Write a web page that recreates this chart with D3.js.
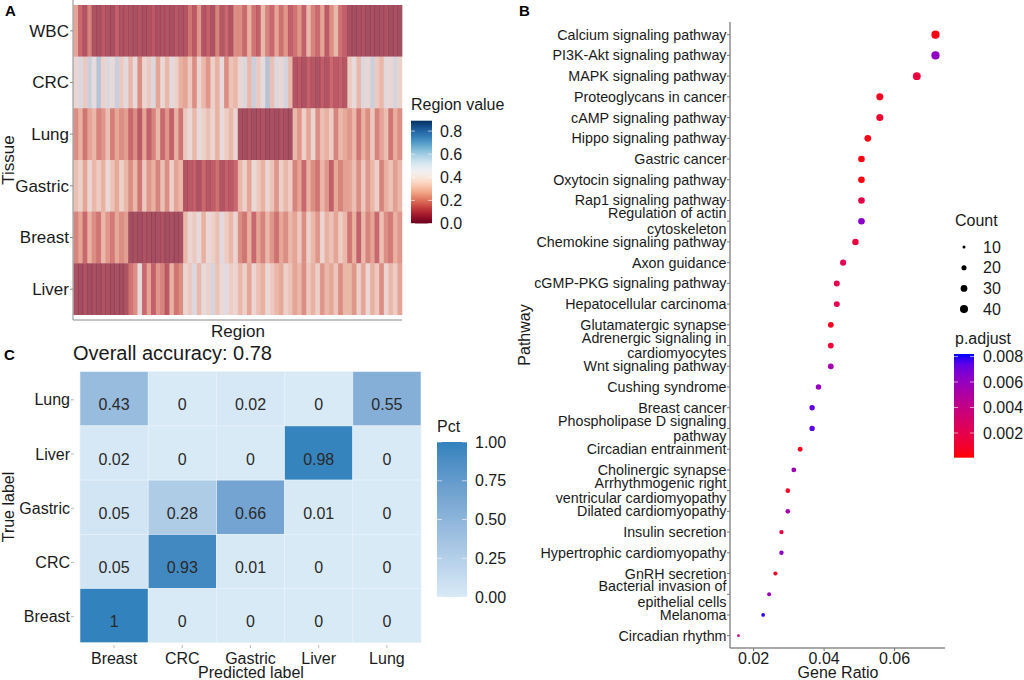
<!DOCTYPE html>
<html><head><meta charset="utf-8">
<script src="https://cdn.jsdelivr.net/npm/d3@7"></script>
<style>
html,body{margin:0;padding:0;background:#fff;}
svg{display:block;font-family:"Liberation Sans",Arial,Helvetica,sans-serif;}
</style></head>
<body><svg id="c" width="1024" height="680"></svg>
<script>
// ---------- Panel A data ----------
const tissues = ["WBC","CRC","Lung","Gastric","Breast","Liver"];
const regionTicks = [0.0,0.2,0.4,0.6,0.8];
const wbcVals = [.25,.12,.06,.18,.05,.04,.08,.05,.04,.1,.05,.06, .05,.04,.06,.04,.05,.08,.04,.05,.06,.04,.07,.05, .06,.15,.08,.22,.06,.1,.05,.18,.07,.12,.06,.2, .2,.12,.28,.15,.1,.3,.18,.12,.25,.14,.22,.1, .15,.22,.1,.3,.18,.12,.25,.08,.2,.3,.14,.1, .04,.03,.04,.05,.03,.04,.03,.04,.05,.03,.04,.03];
const crcVals = [.4,.5,.35,.55,.45,.6,.38,.5,.42,.55,.35,.48, .3,.45,.2,.4,.35,.5,.25,.42,.3,.48,.38,.28, .25,.35,.2,.4,.3,.22,.38,.28,.45,.2,.33,.3, .4,.5,.3,.55,.35,.45,.6,.32,.5,.4,.52,.3, .06,.08,.05,.1,.07,.05,.09,.06,.12,.08,.1,.07, .35,.45,.3,.5,.4,.55,.35,.3,.48,.4,.52,.38];
const lungVals = [.2,.28,.15,.25,.3,.18,.22,.32,.17,.26,.2,.24, .12,.2,.08,.25,.1,.18,.3,.12,.22,.1,.28,.15, .35,.42,.3,.45,.38,.32,.4,.28,.44,.36,.3,.4, .04,.03,.05,.03,.04,.05,.03,.04,.03,.05,.04,.03, .3,.22,.38,.25,.4,.2,.32,.28,.36,.18,.3,.26, .22,.3,.15,.28,.2,.35,.18,.25,.32,.15,.27,.2];
const gastricVals = [.32,.38,.25,.4,.3,.36,.28,.42,.33,.26,.38,.3, .2,.3,.15,.35,.22,.28,.18,.32,.2,.38,.25,.3, .06,.08,.1,.05,.12,.07,.09,.14,.06,.1,.08,.12, .3,.38,.25,.42,.35,.28,.4,.33,.22,.38,.3,.36, .18,.25,.12,.28,.2,.15,.3,.22,.1,.26,.18,.24, .25,.32,.2,.35,.22,.3,.38,.18,.28,.33,.24,.3];
const breastVals = [.18,.25,.12,.28,.2,.15,.3,.22,.16,.26,.2,.24, .03,.04,.03,.05,.04,.03,.04,.05,.03,.04,.03,.04, .3,.4,.35,.45,.28,.42,.38,.32,.48,.36,.3,.4, .2,.15,.28,.12,.25,.18,.3,.22,.14,.26,.2,.3, .25,.35,.2,.38,.3,.22,.4,.28,.33,.25,.36,.3, .15,.28,.1,.3,.18,.25,.12,.32,.2,.16,.28,.22];
const liverVals = [.04,.03,.05,.03,.04,.03,.05,.04,.03,.04,.03,.05, .15,.2,.45,.12,.25,.1,.22,.18,.08,.28,.15,.2, .4,.35,.5,.3,.45,.38,.52,.33,.42,.48,.36,.4, .3,.38,.25,.4,.32,.28,.42,.35,.3,.26,.38,.33, .25,.3,.2,.35,.28,.38,.22,.3,.26,.34,.2,.3, .3,.22,.38,.25,.42,.28,.35,.2,.4,.3,.36,.25];

// ---------- Panel B data ----------
const pathways = ["Calcium signaling pathway","PI3K-Akt signaling pathway","MAPK signaling pathway","Proteoglycans in cancer","cAMP signaling pathway","Hippo signaling pathway","Gastric cancer","Oxytocin signaling pathway","Rap1 signaling pathway","Regulation of actin\ncytoskeleton","Chemokine signaling pathway","Axon guidance","cGMP-PKG signaling pathway","Hepatocellular carcinoma","Glutamatergic synapse","Adrenergic signaling in\ncardiomyocytes","Wnt signaling pathway","Cushing syndrome","Breast cancer","Phospholipase D signaling\npathway","Circadian entrainment","Cholinergic synapse","Arrhythmogenic right\nventricular cardiomyopathy","Dilated cardiomyopathy","Insulin secretion","Hypertrophic cardiomyopathy","GnRH secretion","Bacterial invasion of\nepithelial cells","Melanoma","Circadian rhythm"];
const geneRatio = [0.0716,0.0716,0.0663,0.0558,0.0558,0.0524,0.0506,0.0506,0.0506,0.0506,0.0489,0.0454,0.0436,0.0436,0.0419,0.0419,0.0419,0.0384,0.0366,0.0366,0.0332,0.0314,0.0297,0.0297,0.0279,0.0279,0.0262,0.0244,0.0227,0.0157];
const counts = [41,41,38,32,32,30,29,29,29,29,28,26,25,25,24,24,24,22,21,21,19,18,17,17,16,16,15,14,13,9];
const pAdjust = [0.0003,0.0062,0.0015,0.0006,0.0010,0.0004,0.0003,0.0003,0.0018,0.0064,0.0016,0.0022,0.0020,0.0020,0.0006,0.0012,0.0055,0.0060,0.0074,0.0075,0.0007,0.0057,0.0008,0.0054,0.0017,0.0062,0.0008,0.0058,0.0080,0.0040];
const ratioTicks = [0.02,0.04,0.06];
const countTicks = [10,20,30,40];
const pTicks = [0.002,0.004,0.006,0.008];

// ---------- Panel C data ----------
const trueLabels = ["Lung","Liver","Gastric","CRC","Breast"];
const predLabels = ["Breast","CRC","Gastric","Liver","Lung"];
const cmLung = [0.43,0,0.02,0,0.55];
const cmLiver = [0.02,0,0,0.98,0];
const cmGastric = [0.05,0.28,0.66,0.01,0];
const cmCRC = [0.05,0.93,0.01,0,0];
const cmBreast = [1,0,0,0,0];
const pctTicks = [0.00,0.25,0.50,0.75,1.00];
const accuracy = 0.78;

const svg = d3.select("#c");
const TXT = "#1a1a1a";
const AX = "#8a8a8a";

// ================= Panel A =================
const heatRows = [wbcVals,crcVals,lungVals,gastricVals,breastVals,liverVals];
const nCols = wbcVals.length;
const xA = d3.scaleBand().domain(d3.range(nCols)).range([73.5,402]);
const yA = d3.scaleBand().domain(tissues).range([5,315]);
const colA = d3.scaleSequential(d3.interpolateRdBu).domain([0,0.89]);
const gA = svg.append("g");
gA.append("rect").attr("x",73.5).attr("y",5).attr("width",328.5).attr("height",310).attr("fill","#d8b8c0");
heatRows.forEach((row,ri)=>{
  gA.selectAll(null).data(row).enter().append("rect")
    .attr("x",(d,i)=>xA(i)).attr("y",yA(tissues[ri]))
    .attr("width",xA.bandwidth()+0.4).attr("height",yA.bandwidth())
    .attr("fill",d=>colA(d)).attr("fill-opacity",0.6);
});
gA.append("line").attr("x1",73).attr("x2",73).attr("y1",0).attr("y2",320).attr("stroke",AX).attr("stroke-width",1);
gA.append("line").attr("x1",73).attr("x2",402).attr("y1",320).attr("y2",320).attr("stroke",AX).attr("stroke-width",1);
tissues.forEach(t=>{
  const y = yA(t)+yA.bandwidth()/2;
  gA.append("line").attr("x1",70).attr("x2",73).attr("y1",y).attr("y2",y).attr("stroke",AX);
  gA.append("text").attr("x",69).attr("y",y).attr("dy","0.35em").attr("text-anchor","end").attr("font-size",17).attr("fill",TXT).text(t);
});
gA.append("text").attr("transform","translate(14,160) rotate(-90)").attr("text-anchor","middle").attr("font-size",17).attr("fill",TXT).text("Tissue");
gA.append("text").attr("x",238).attr("y",337).attr("text-anchor","middle").attr("font-size",17).attr("fill",TXT).text("Region");
gA.append("text").attr("x",5).attr("y",16).attr("font-size",15).attr("font-weight","bold").attr("fill","#000").text("A");
// legend A
const defs = svg.append("defs");
const gradA = defs.append("linearGradient").attr("id","gA").attr("x1",0).attr("x2",0).attr("y1",1).attr("y2",0);
d3.range(0,1.0001,0.05).forEach(t=>gradA.append("stop").attr("offset",t).attr("stop-color",colA(t*0.89)));
const yLA = d3.scaleLinear().domain([0,0.89]).range([223.5,120.7]);
gA.append("rect").attr("x",411).attr("y",120.7).attr("width",21).attr("height",102.8).attr("fill","url(#gA)");
gA.append("text").attr("x",411).attr("y",110).attr("font-size",16).attr("fill",TXT).text("Region value");
regionTicks.forEach(v=>{
  const y=yLA(v);
  gA.append("line").attr("x1",411).attr("x2",415).attr("y1",y).attr("y2",y).attr("stroke","#fff").attr("stroke-opacity",0.6);
  gA.append("line").attr("x1",428).attr("x2",432).attr("y1",y).attr("y2",y).attr("stroke","#fff").attr("stroke-opacity",0.6);
  gA.append("text").attr("x",440).attr("y",y).attr("dy","0.35em").attr("font-size",16).attr("fill",TXT).text(v.toFixed(1));
});

// ================= Panel C =================
const cmRows = [cmLung,cmLiver,cmGastric,cmCRC,cmBreast];
const xC = d3.scaleBand().domain(predLabels).range([80,421]);
const yC = d3.scaleBand().domain(trueLabels).range([371.7,642.7]);
const colC = d3.scaleLinear().domain([0,1]).range(["#d9eaf7","#3182bd"]).interpolate(d3.interpolateLab);
const gC = svg.append("g");
cmRows.forEach((row,ri)=>{
  const t = trueLabels[ri];
  gC.selectAll(null).data(row).enter().append("rect")
    .attr("x",(d,i)=>xC(predLabels[i])).attr("y",yC(t))
    .attr("width",xC.bandwidth()).attr("height",yC.bandwidth())
    .attr("fill",d=>colC(d)).attr("stroke","#e8f2fa").attr("stroke-width",0.6);
  gC.selectAll(null).data(row).enter().append("text")
    .attr("x",(d,i)=>xC(predLabels[i])+xC.bandwidth()/2).attr("y",yC(t)+yC.bandwidth()/2+6)
    .attr("dy","0.35em").attr("text-anchor","middle").attr("font-size",16).attr("fill","#2a2a2a")
    .text(d=>String(d));
});
trueLabels.forEach(t=>{
  const y=yC(t)+yC.bandwidth()/2;
  gC.append("line").attr("x1",71).attr("x2",74).attr("y1",y+1).attr("y2",y+1).attr("stroke","#bbb");
  gC.append("text").attr("x",70).attr("y",y+1).attr("dy","0.35em").attr("text-anchor","end").attr("font-size",16).attr("fill",TXT).text(t);
});
predLabels.forEach(p=>{
  const x=xC(p)+xC.bandwidth()/2;
  gC.append("line").attr("x1",x).attr("x2",x).attr("y1",645).attr("y2",648).attr("stroke","#bbb");
  gC.append("text").attr("x",x).attr("y",664).attr("text-anchor","middle").attr("font-size",16).attr("fill",TXT).text(p);
});
gC.append("text").attr("x",251).attr("y",678).attr("text-anchor","middle").attr("font-size",16).attr("fill",TXT).text("Predicted label");
gC.append("text").attr("transform","translate(14,507) rotate(-90)").attr("text-anchor","middle").attr("font-size",16).attr("fill",TXT).text("True label");
gC.append("text").attr("x",73).attr("y",360).attr("font-size",20).attr("fill",TXT).text("Overall accuracy: "+accuracy);
gC.append("text").attr("x",4).attr("y",360).attr("font-size",15).attr("font-weight","bold").attr("fill","#000").text("C");
// legend C
const gradC = defs.append("linearGradient").attr("id","gC").attr("x1",0).attr("x2",0).attr("y1",1).attr("y2",0);
d3.range(0,1.0001,0.1).forEach(t=>gradC.append("stop").attr("offset",t).attr("stop-color",colC(t)));
const yLC = d3.scaleLinear().domain([0,1]).range([597,442]);
gC.append("rect").attr("x",437).attr("y",442).attr("width",30).attr("height",155).attr("fill","url(#gC)");
gC.append("text").attr("x",437).attr("y",432).attr("font-size",16).attr("fill",TXT).text("Pct");
pctTicks.forEach(v=>{
  const y=yLC(v);
  gC.append("line").attr("x1",437).attr("x2",442).attr("y1",y).attr("y2",y).attr("stroke","#fff").attr("stroke-opacity",0.6);
  gC.append("line").attr("x1",462).attr("x2",467).attr("y1",y).attr("y2",y).attr("stroke","#fff").attr("stroke-opacity",0.6);
  gC.append("text").attr("x",475).attr("y",y).attr("dy","0.35em").attr("font-size",16).attr("fill",TXT).text(v.toFixed(2));
});

// ================= Panel B =================
const gB = svg.append("g");
const xB = d3.scaleLinear().domain([0.0133,0.0743]).range([730,945]);
const yB = d3.scalePoint().domain(pathways).range([34.7,635.7]);
const rB = d3.scalePow().exponent(0.5).domain([9,41]).range([0,1]);
const rad = c => 1.4 + 2.7*rB(c);
const colB = d3.scaleLinear().domain([0.00006,0.0082]).range(["#ff0000","#0000ff"]).interpolate(d3.interpolateLab);
gB.append("line").attr("x1",730).attr("x2",730).attr("y1",22).attr("y2",648).attr("stroke","#555");
gB.append("line").attr("x1",730).attr("x2",945).attr("y1",648).attr("y2",648).attr("stroke","#555");
pathways.forEach((p,i)=>{
  const y=yB(p);
  gB.append("line").attr("x1",727).attr("x2",730).attr("y1",y).attr("y2",y).attr("stroke","#777");
  const lines=p.split("\n");
  const t=gB.append("text").attr("x",726.5).attr("text-anchor","end").attr("font-size",14.3).attr("fill",TXT);
  if(lines.length===1){ t.attr("y",y).attr("dy","0.35em").text(p); }
  else{
    lines.forEach((l,k)=>t.append("tspan").attr("x",726.5).attr("y",y+(k===0?-7.8:7.8)).attr("dy","0.35em").text(l));
  }
});
gB.selectAll(null).data(pathways).enter().append("circle")
  .attr("cx",(d,i)=>xB(geneRatio[i])).attr("cy",d=>yB(d))
  .attr("r",(d,i)=>rad(counts[i])).attr("fill",(d,i)=>colB(pAdjust[i]));
ratioTicks.forEach(v=>{
  const x=xB(v);
  gB.append("line").attr("x1",x).attr("x2",x).attr("y1",648).attr("y2",651).attr("stroke","#777");
  gB.append("text").attr("x",x).attr("y",664).attr("text-anchor","middle").attr("font-size",16).attr("fill",TXT).text(v.toFixed(2));
});
gB.append("text").attr("x",838).attr("y",678).attr("text-anchor","middle").attr("font-size",16).attr("fill",TXT).text("Gene Ratio");
gB.append("text").attr("transform","translate(530,335) rotate(-90)").attr("text-anchor","middle").attr("font-size",16).attr("fill",TXT).text("Pathway");
gB.append("text").attr("x",519).attr("y",16).attr("font-size",15).attr("font-weight","bold").attr("fill","#000").text("B");
// Count legend
gB.append("text").attr("x",955).attr("y",226).attr("font-size",16).attr("fill",TXT).text("Count");
countTicks.forEach((c,i)=>{
  const y=247+i*20.7;
  gB.append("circle").attr("cx",964).attr("cy",y).attr("r",rad(c)).attr("fill","#000");
  gB.append("text").attr("x",983).attr("y",y).attr("dy","0.35em").attr("font-size",16).attr("fill",TXT).text(c);
});
// p.adjust legend
gB.append("text").attr("x",955).attr("y",344).attr("font-size",16).attr("fill",TXT).text("p.adjust");
const gradB = defs.append("linearGradient").attr("id","gB").attr("x1",0).attr("x2",0).attr("y1",1).attr("y2",0);
d3.range(0,1.0001,0.1).forEach(t=>gradB.append("stop").attr("offset",t).attr("stop-color",colB(0.00006+t*(0.0082-0.00006))));
const yLB = d3.scaleLinear().domain([0.00006,0.0082]).range([457.7,354]);
gB.append("rect").attr("x",954).attr("y",354).attr("width",20).attr("height",103.7).attr("fill","url(#gB)");
pTicks.forEach(v=>{
  const y=yLB(v);
  gB.append("line").attr("x1",954).attr("x2",958).attr("y1",y).attr("y2",y).attr("stroke","#fff").attr("stroke-opacity",0.6);
  gB.append("line").attr("x1",970).attr("x2",974).attr("y1",y).attr("y2",y).attr("stroke","#fff").attr("stroke-opacity",0.6);
  gB.append("text").attr("x",983).attr("y",y).attr("dy","0.35em").attr("font-size",16).attr("fill",TXT).text(v.toFixed(3));
});
</script></body></html>
